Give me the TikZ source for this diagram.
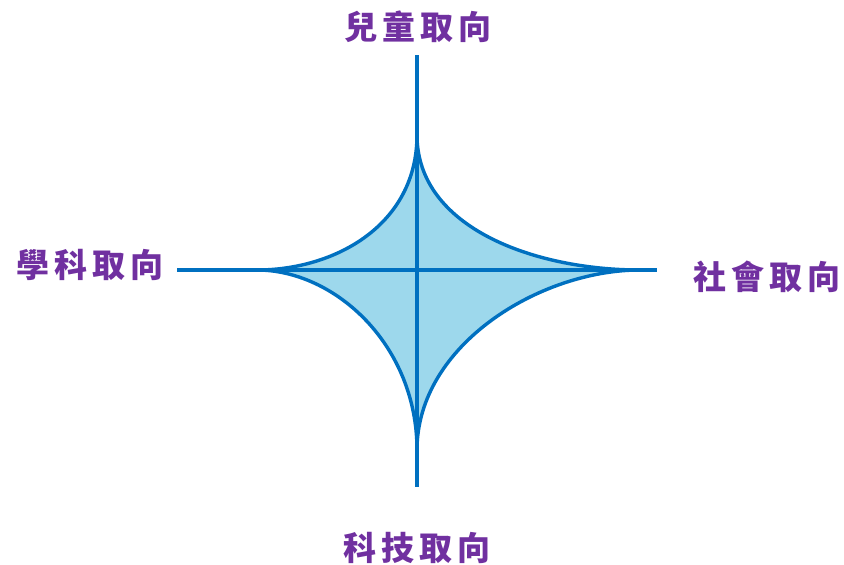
\documentclass[tikz,border=0pt]{standalone}
\usepackage{fontspec}
\newfontfamily\cjk[LetterSpace=15]{Noto Sans CJK TC}
\usepackage{tikz}
\usetikzlibrary{positioning, calc}
\usepackage{xcolor}
\definecolor{axisBlue} {HTML}{0070C0}
\definecolor{starFill} {HTML}{9DD8EC}
\definecolor{labPurple}{HTML}{7030A0}

\begin{document}
\begin{tikzpicture}[x=1pt, y=-1pt,
    every node/.style={font=\cjk\bfseries\fontsize{33}{33}\selectfont, text=labPurple},
    axis/.style={draw=axisBlue, line width=3.6pt},
    star/.style={draw=axisBlue, fill=starFill, line width=3.4pt, line join=round}]
    \useasboundingbox (0,0) rectangle (844,565);

    % star corners and axis ends
    \coordinate (c) at (417,270);
    \coordinate (st) at (417,135);
    \coordinate (sr) at (640,270);
    \coordinate (sb) at (417,450);
    \coordinate (sl) at (257,270);
    \coordinate (at) at (417,55);
    \coordinate (ab) at (417,487);
    \coordinate (al) at (177,270);
    \coordinate (ar) at (657,270);

    \draw[star] (st) .. controls (417,228) and (535,270) .. (sr)
                     .. controls (540,270) and (417,345) .. (sb)
                     .. controls (417,345) and (335,270) .. (sl)
                     .. controls (335,270) and (417,225) .. (st) -- cycle;

    \draw[axis] (at) -- (ab);
    \draw[axis] (al) -- (ar);

    \node (child) at (418,27)  {兒童取向};
    \node (subj)  at (90,265)  {學科取向};
    \node (soc)   at (767,277) {社會取向};
    \node (tech)  at (417,548) {科技取向};
  \end{tikzpicture}
\end{document}
